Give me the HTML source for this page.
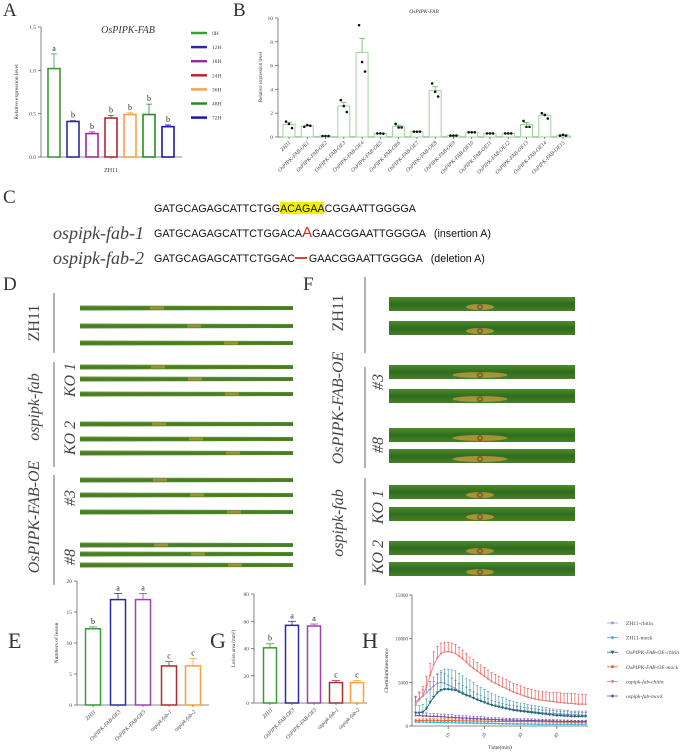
<!DOCTYPE html>
<html><head><meta charset="utf-8">
<style>
html,body{margin:0;padding:0;background:#fff;}
svg{display:block;font-family:"Liberation Serif",serif;}
.sans{font-family:"Liberation Sans",sans-serif;}
</style></head>
<body>
<svg id="fig" width="685" height="754" viewBox="0 0 685 754" xmlns="http://www.w3.org/2000/svg">
<defs>
<linearGradient id="leafD" x1="0" y1="0" x2="0" y2="1">
<stop offset="0" stop-color="#6f9a3a"/><stop offset="0.5" stop-color="#3f7a22"/><stop offset="1" stop-color="#5a8a2c"/></linearGradient>
<linearGradient id="leafF" x1="0" y1="0" x2="0" y2="1">
<stop offset="0" stop-color="#4f8a2e"/><stop offset="0.5" stop-color="#2f6e1e"/><stop offset="1" stop-color="#467f28"/></linearGradient>
</defs>
<g id="panelA"></g>
<g id="panelB"></g>
<g id="panelC">
<text x="3" y="203" font-size="19" fill="#333">C</text>
<rect x="280" y="202" width="44" height="12" fill="#f4ef00"/>
<text class="sans" x="154" y="212" font-size="10.7" fill="#111">GATGCAGAGCATTCTGGACAGAACGGAATTGGGGA</text>
<text x="53" y="239" font-size="18" font-style="italic" fill="#444">ospipk-fab-1</text>
<text class="sans" x="154" y="237" font-size="10.7" fill="#111">GATGCAGAGCATTCTGGACA<tspan fill="#e02020" font-size="15">A</tspan>GAACGGAATTGGGGA<tspan dx="8">(insertion A)</tspan></text>
<text x="53" y="264" font-size="18" font-style="italic" fill="#444">ospipk-fab-2</text>
<text class="sans" x="154" y="262" font-size="10.7" fill="#111">GATGCAGAGCATTCTGGAC<tspan dx="14">GAACGGAATTGGGGA</tspan><tspan dx="8">(deletion A)</tspan></text>
<line x1="295" y1="258" x2="307" y2="258" stroke="#e04040" stroke-width="2"/>
</g>
<g id="panelD">
<text x="3" y="290" font-size="19" fill="#333">D</text>
</g>
<g id="panelF">
<text x="303" y="290" font-size="19" fill="#333">F</text>
</g>
<g id="panelE"></g>
<g id="panelG"></g>
<g id="panelH"></g>
</svg>
<script>
// ---------- data ----------
const aCats = ['0H','12H','18H','24H','36H','48H','72H'];
const aVals = [1.02,0.41,0.27,0.45,0.49,0.49,0.35];
const aErr = [0.17,0.01,0.02,0.03,0.02,0.12,0.02];
const aLetters = ['a','b','b','b','b','b','b'];
const aTicks = [0,0.5,1.0,1.5];

const bCats = ['ZH11','OsPIPK-FAB-OE1','OsPIPK-FAB-OE2','OsPIPK-FAB-OE3','OsPIPK-FAB-OE4','OsPIPK-FAB-OE5','OsPIPK-FAB-OE6','OsPIPK-FAB-OE7','OsPIPK-FAB-OE8','OsPIPK-FAB-OE9','OsPIPK-FAB-OE10','OsPIPK-FAB-OE11','OsPIPK-FAB-OE12','OsPIPK-FAB-OE13','OsPIPK-FAB-OE14','OsPIPK-FAB-OE15'];
const bVals = [1.05,0.93,0.08,2.6,7.1,0.29,0.9,0.45,3.9,0.12,0.4,0.3,0.3,1.05,1.8,0.15];
const bErr = [0.16,0.05,0.01,0.29,1.2,0.01,0.1,0.01,0.32,0.01,0.01,0.01,0.01,0.17,0.13,0.02];
const bPts1 = [1.3,0.85,0.08,3.1,9.4,0.3,1.1,0.45,4.5,0.12,0.4,0.3,0.3,1.35,2.0,0.12];
const bPts2 = [1.1,1.0,0.08,2.6,6.3,0.3,0.8,0.45,3.8,0.12,0.4,0.3,0.3,0.85,1.85,0.18];
const bPts3 = [0.75,0.95,0.08,2.1,5.5,0.28,0.8,0.45,3.4,0.12,0.4,0.3,0.3,0.85,1.55,0.12];
const bTicks = [0,2,4,6,8,10];

const eCats = ['ZH11','OsPIPK-FAB-OE3','OsPIPK-FAB-OE5','ospipk-fab-1','ospipk-fab-2'];
const eVals = [12.3,17,17,6.3,6.3];
const eErr = [0.3,1,1,0.7,1.2];
const eLetters = ['b','a','a','c','c'];
const eTicks = [0,5,10,15,20];

const gVals = [40.5,57,56.5,15,15];
const gErr = [3,3,1.5,1.5,1.5];
const gLetters = ['b','a','a','c','c'];
const gTicks = [0,20,40,60,80];

const hTime = [];
for (let t=1;t<=48;t++) hTime.push(t);
const hXTicks = [10,20,30,40];
const hYTicks = [0,5000,10000,15000];
const hFabChitin = [2500,3000,3500,4500,5800,7000,7800,8300,8500,8500,8450,8300,8000,7700,7300,6900,6600,6300,6000,5700,5400,5100,4900,4700,4500,4300,4100,3900,3750,3600,3450,3300,3200,3100,3000,2950,2900,2850,2800,2750,2700,2650,2600,2600,2550,2500,2500,2500];
const hZhChitin = [2800,3100,3400,3800,4200,4600,4900,5000,4900,4700,4500,4300,4000,3800,3600,3400,3200,3000,2850,2700,2550,2400,2300,2200,2100,2000,1950,1900,1850,1800,1750,1700,1650,1600,1550,1500,1500,1450,1450,1400,1400,1350,1350,1300,1300,1300,1250,1250];
const hOeChitin = [1500,1500,1600,2000,2700,3300,3800,4100,4200,4200,4150,4100,3900,3700,3500,3400,3200,3000,2850,2700,2550,2400,2300,2200,2100,2000,1900,1800,1750,1700,1650,1600,1550,1500,1450,1400,1350,1300,1250,1200,1200,1150,1150,1100,1100,1100,1100,1100];
const hFabMock = [1200,1200,1150,1150,1100,1100,1100,1050,1050,1000,1000,950,950,900,900,880,860,840,820,800,780,760,740,720,700,690,680,670,660,650,640,630,620,610,600,590,580,570,560,550,540,530,520,510,500,500,500,500];
const hZhMock = [450,450,440,430,420,420,410,400,400,390,380,370,360,350,340,330,320,310,300,300,290,280,270,260,250,250,240,240,230,230,220,220,210,210,200,200,200,200,200,200,200,200,200,200,200,200,200,200];
const hOeMock = [600,620,640,650,660,660,650,650,640,630,620,610,600,600,590,580,570,560,560,550,550,540,540,530,530,520,520,510,510,500,500,500,500,490,490,480,480,470,470,460,460,450,450,440,440,440,430,430];
const hFabChitinErr = [800,900,1000,1200,1400,1500,1300,1200,1100,1100,1050,1050,1000,1000,1000,1000,1000,1000,1000,1000,1000,1000,1000,1000,1000,1000,1000,1000,1000,1000,1000,1000,1000,1000,1000,1000,1000,1000,1050,1100,1100,1100,1150,1150,1150,1150,1100,1100];

// ---------- helpers ----------
const NS='http://www.w3.org/2000/svg';
function mk(parent, tag, attrs, text){
  const el=document.createElementNS(NS,tag);
  for(const k in attrs) el.setAttribute(k,attrs[k]);
  if(text!==undefined) el.textContent=text;
  parent.appendChild(el); return el;
}
function linY(v,max,y0,yTop){return y0-(v/max)*(y0-yTop);}

// ---------- Panel A ----------
(function(){
  const g=document.getElementById('panelA');
  const x0=41,y0=157,yT=27,max=1.5,xEnd=182;
  const colors=['#3d9a3d','#2a2aa0','#9a2aa0','#b02a2a','#ffa040','#2a8a2a','#1a1aa0'];
  let t=mk(g,'text',{x:3,y:16,'font-size':19,fill:'#333'},'A');
  
  
  t=mk(g,'text',{x:128,y:33,'font-size':10,'font-style':'italic','text-anchor':'middle',fill:'#333'},'OsPIPK-FAB');
  
  
  const ax=mk(g,'path',{d:`M${x0} ${yT} V${y0} H${xEnd}`,stroke:'#666',fill:'none','stroke-width':0.8});
  
  
  aTicks.forEach(v=>{const y=linY(v,max,y0,yT);
    mk(g,'line',{x1:x0-3,x2:x0,y1:y,y2:y,stroke:'#666','stroke-width':0.8});
    const tl=mk(g,'text',{x:x0-5,y:y+2,'font-size':5.5,'text-anchor':'end',fill:'#444'},v.toFixed(1));
    
    });
  t=mk(g,'text',{transform:`translate(18,92) rotate(-90)`,'font-size':5.5,'text-anchor':'middle',fill:'#333'},'Relative expression level');
  
  
  t=mk(g,'text',{x:111,y:172,'font-size':6,'text-anchor':'middle',fill:'#333'},'ZH11');
  
  
  mk(g,'line',{x1:111,x2:111,y1:y0,y2:y0+2,stroke:'#666','stroke-width':0.8});
  aVals.forEach((v,i)=>{
    const cx=54+i*19,w=12,y=linY(v,max,y0,yT),ye=linY(v+aErr[i],max,y0,yT);
    const b=mk(g,'rect',{x:cx-w/2,y:y,width:w,height:y0-y,fill:'none',stroke:colors[i],'stroke-width':1.6});
    
    
    mk(g,'path',{d:`M${cx} ${y} V${ye} M${cx-3} ${ye} H${cx+3}`,stroke:colors[i],'stroke-width':0.8,fill:'none'});
    const l=mk(g,'text',{x:cx,y:ye-3,'font-size':8,'text-anchor':'middle',fill:'#222'},aLetters[i]);
    
    
    const ly=33+i*14.1;
    const ll=mk(g,'line',{x1:191,x2:207,y1:ly,y2:ly,stroke:colors[i],'stroke-width':2.5});
    
    
    const lt=mk(g,'text',{x:212,y:ly+2,'font-size':5.5,fill:'#444'},aCats[i]);
    
    
  });
})();

// ---------- Panel B ----------
(function(){
  const g=document.getElementById('panelB');
  const x0=278,y0=137,yT=18,max=10,xEnd=571;
  let t=mk(g,'text',{x:233,y:16,'font-size':19,fill:'#333'},'B');
  
  
  t=mk(g,'text',{x:424,y:13,'font-size':5.5,'font-style':'italic','text-anchor':'middle',fill:'#333'},'OsPIPK-FAB');
  
  
  const ax=mk(g,'path',{d:`M${x0} ${yT} V${y0} H${xEnd}`,stroke:'#666',fill:'none','stroke-width':0.8});
  
  
  bTicks.forEach(v=>{const y=linY(v,max,y0,yT);
    mk(g,'line',{x1:x0-3,x2:x0,y1:y,y2:y,stroke:'#666','stroke-width':0.8});
    const tl=mk(g,'text',{x:x0-5,y:y+2,'font-size':5.5,'text-anchor':'end',fill:'#444'},String(v));
    
    });
  t=mk(g,'text',{transform:`translate(262,77) rotate(-90)`,'font-size':5,'text-anchor':'middle',fill:'#333'},'Relative expression level');
  
  
  const step=18.27;
  bVals.forEach((v,i)=>{
    const cx=289+i*step,w=12,y=linY(v,max,y0,yT),ye=linY(v+bErr[i],max,y0,yT);
    const b=mk(g,'rect',{x:cx-w/2,y:y,width:w,height:y0-y,fill:'none',stroke:'#9fd49f','stroke-width':1});
    
    
    mk(g,'path',{d:`M${cx} ${y} V${ye} M${cx-3} ${ye} H${cx+3}`,stroke:'#5cb85c','stroke-width':0.8,fill:'none'});
    [bPts1[i],bPts2[i],bPts3[i]].forEach((p,k)=>{
      const dot=mk(g,'circle',{cx:cx+(k-1)*3,cy:linY(p,max,y0,yT),r:1.3,fill:'#111'});
      
      
    });
    mk(g,'line',{x1:cx,x2:cx,y1:y0,y2:y0+2,stroke:'#666','stroke-width':0.8});
    const lb=mk(g,'text',{transform:`translate(${cx+2},${y0+6}) rotate(-45)`,'font-size':5.5,'font-style':'italic','text-anchor':'end',fill:'#444'},bCats[i]);
    
    
  });
})();

// ---------- Panels D & F leaves ----------
(function(){
  const d=document.getElementById('panelD');
  const dLeaves=[308,326,343,367,379,394,424,439,453,480,495,512,545,554,565];
  dLeaves.forEach((y,i)=>{
    const r=mk(d,'path',{d:`M80 ${y-2.5} L293 ${y-2} L293 ${y+2} L80 ${y+2.5} Z`,fill:'url(#leafD)'});
    
    
    mk(d,'rect',{x:150+((i*37)%110),y:y-1.5,width:14,height:3,fill:'#c8a040',opacity:0.6});
  });
  const lines=[[54,293,353],[54,362,467],[54,475,585]];
  lines.forEach(l=>mk(d,'line',{x1:l[0],x2:l[0],y1:l[1],y2:l[2],stroke:'#666','stroke-width':1}));
  const dl=[[33,323,'ZH11',16,false],[33,407,'ospipk-fab',16,true],[69,380,'KO 1',16,true],[69,438,'KO 2',16,true],[33,517,'OsPIPK-FAB-OE',16,true],[69,498,'#3',16,true],[69,557,'#8',16,true]];
  dl.forEach(a=>{const t=mk(d,'text',{transform:`translate(${a[0]+6},${a[1]}) rotate(-90)`,'font-size':a[3],'font-style':a[4]?'italic':'normal','text-anchor':'middle',fill:'#444'},a[2]);
    
    });

  const f=document.getElementById('panelF');
  const fLeaves=[304,328,372,396,435,456,492,514,548,569];
  fLeaves.forEach((y,i)=>{
    const r=mk(f,'rect',{x:389,y:y-7,width:186,height:14,fill:'url(#leafF)'});
    
    
    const wdt=(i>=2&&i<=5)?55:28;
    mk(f,'ellipse',{cx:480,cy:y+3,rx:wdt/2,ry:3,fill:'#d8a040',opacity:0.7});
    mk(f,'circle',{cx:480,cy:y+3,r:2.3,fill:'none',stroke:'#6a3a20','stroke-width':1});
  });
  [[365,277,353],[365,367,468],[365,478,585]].forEach(l=>mk(f,'line',{x1:l[0],x2:l[0],y1:l[1],y2:l[2],stroke:'#666','stroke-width':1}));
  const fl=[[337,313,'ZH11',false],[337,408,'OsPIPK-FAB-OE',true],[377,382,'#3',true],[377,445,'#8',true],[337,523,'ospipk-fab',true],[377,507,'KO 1',true],[377,557,'KO 2',true]];
  fl.forEach(a=>{const t=mk(f,'text',{transform:`translate(${a[0]+6},${a[1]}) rotate(-90)`,'font-size':16,'font-style':a[3]?'italic':'normal','text-anchor':'middle',fill:'#444'},a[2]);
    
    });
})();

// ---------- Panels E & G ----------
const egColors=['#3a9a3a','#2a2aa0','#a040b0','#b02a2a','#ffa040'];
function barPanel(id,label,lx,x0,y0,yT,xEnd,max,ticks,vals,errs,letters,centers,w,ytitle,fs){
  const g=document.getElementById(id);
  let t=mk(g,'text',{x:lx,y:648,'font-size':22,fill:'#333'},label);
  
  
  const ax=mk(g,'path',{d:`M${x0} ${yT} V${y0} H${xEnd}`,stroke:'#666',fill:'none','stroke-width':0.8});
  
  
  ticks.forEach(v=>{const y=linY(v,max,y0,yT);
    mk(g,'line',{x1:x0-3,x2:x0,y1:y,y2:y,stroke:'#666','stroke-width':0.8});
    const tl=mk(g,'text',{x:x0-5,y:y+2,'font-size':5.5,'text-anchor':'end',fill:'#444'},String(v));
    
    });
  t=mk(g,'text',{transform:`translate(${x0-19},${(y0+yT)/2}) rotate(-90)`,'font-size':fs,'text-anchor':'middle',fill:'#333'},ytitle);
  
  
  vals.forEach((v,i)=>{
    const cx=centers[i],y=linY(v,max,y0,yT),ye=linY(v+errs[i],max,y0,yT);
    const b=mk(g,'rect',{x:cx-w/2,y:y,width:w,height:y0-y,fill:'none',stroke:egColors[i],'stroke-width':1.5});
    
    
    mk(g,'path',{d:`M${cx} ${y} V${ye} M${cx-4} ${ye} H${cx+4}`,stroke:egColors[i],'stroke-width':0.8,fill:'none'});
    const l=mk(g,'text',{x:cx,y:ye-3,'font-size':8,'text-anchor':'middle',fill:'#222'},letters[i]);
    
    
    mk(g,'line',{x1:cx,x2:cx,y1:y0,y2:y0+2,stroke:'#666','stroke-width':0.8});
    const lb=mk(g,'text',{transform:`translate(${cx+3},${y0+7}) rotate(-45)`,'font-size':5.5,'font-style':'italic','text-anchor':'end',fill:'#444'},eCats[i]);
    
    
  });
}
barPanel('panelE','E',8,77,705,581,209,20,eTicks,eVals,eErr,eLetters,[93,118,143,169,193],15,'Numbers of  lesion',5.5);
barPanel('panelG','G',210,254,703,594,367,80,gTicks,gVals,gErr,gLetters,[270,292,314,336,357],13,'Lesion area (mm²)',5);

// ---------- Panel H ----------
(function(){
  const g=document.getElementById('panelH');
  const x0=412,y0=726,yT=595,xEnd=588,max=15000,pxPerMin=3.62;
  const X=t=>x0+t*pxPerMin, Y=v=>linY(v,max,y0,yT);
  let t=mk(g,'text',{x:362,y:648,'font-size':22,fill:'#333'},'H');
  
  
  const ax=mk(g,'path',{d:`M${x0} ${yT} V${y0} H${xEnd}`,stroke:'#666',fill:'none','stroke-width':0.8});
  
  
  hYTicks.forEach(v=>{const y=Y(v);
    mk(g,'line',{x1:x0-3,x2:x0,y1:y,y2:y,stroke:'#666','stroke-width':0.8});
    const tl=mk(g,'text',{x:x0-4,y:y+2,'font-size':5,'text-anchor':'end',fill:'#444'},String(v));
    
    });
  hXTicks.forEach(v=>{const x=X(v);
    mk(g,'line',{x1:x,x2:x,y1:y0,y2:y0+3,stroke:'#666','stroke-width':0.8});
    const tl=mk(g,'text',{transform:`translate(${x+2},${y0+8}) rotate(-60)`,'font-size':5,'text-anchor':'end',fill:'#444'},String(v));
    
    });
  t=mk(g,'text',{x:500,y:749,'font-size':5.5,'text-anchor':'middle',fill:'#333'},'Time(min)');
  
  
  t=mk(g,'text',{transform:`translate(388,${(y0+yT)/2+10}) rotate(-90)`,'font-size':5.5,'text-anchor':'middle',fill:'#333'},'Chemiluminescence');
  
  
  const series=[
    {name:'ZH11-chitin',vals:hZhChitin,col:'#a890e8',err:0.22,italic:false},
    {name:'ZH11-mock',vals:hZhMock,col:'#30b8f0',err:0.3,italic:false},
    {name:'OsPIPK-FAB-OE-chitin',vals:hOeChitin,col:'#1a6a78',err:0.55,italic:true,tri:true},
    {name:'OsPIPK-FAB-OE-mock',vals:hOeMock,col:'#f06020',err:0.3,italic:true},
    {name:'ospipk-fab-chitin',vals:hFabChitin,col:'#f07878',errArr:hFabChitinErr,italic:true},
    {name:'ospipk-fab-mock',vals:hFabMock,col:'#6a50a8',err:0.3,italic:true}
  ];
  const errCols=['#7060a0','#30b8f0','#3a9aa0','#f06020','#f04040','#6a50a8'];
  series.forEach((s,si)=>{
    const sg=mk(g,'g',{});
    
    
    s.vals.forEach((v,i)=>{
      const e=s.errArr?s.errArr[i]:v*s.err;
      const x=X(hTime[i]);
      mk(sg,'path',{d:`M${x} ${Y(v)} V${Y(v+e)} M${x-1.2} ${Y(v+e)} H${x+1.2}`,stroke:errCols[si],'stroke-width':0.6,fill:'none'});
    });
    const d=s.vals.map((v,i)=>(i?'L':'M')+X(hTime[i]).toFixed(1)+' '+Y(v).toFixed(1)).join(' ');
    const ln=mk(sg,'path',{d:d,stroke:s.col,'stroke-width':0.9,fill:'none'});
    
    
    s.vals.forEach((v,i)=>{
      const x=X(hTime[i]),y=Y(v);
      if(s.tri) mk(sg,'path',{d:`M${x-1.6} ${y-1.2} H${x+1.6} L${x} ${y+1.6} Z`,fill:s.col});
      else mk(sg,'circle',{cx:x,cy:y,r:1,fill:s.col});
    });
    const ly=623+si*14.6;
    const lg=mk(g,'g',{});
    
    
    mk(lg,'line',{x1:607,x2:618,y1:ly,y2:ly,stroke:s.col,'stroke-width':0.8});
    if(s.tri) mk(lg,'path',{d:`M610.5 ${ly-1.5} H614.5 L612.5 ${ly+2} Z`,fill:s.col});
    else mk(lg,'circle',{cx:612.5,cy:ly,r:1.5,fill:s.col});
    mk(lg,'text',{x:626,y:ly+2,'font-size':5.5,'font-style':s.italic?'italic':'normal',fill:'#444'},s.name);
  });
})();
</script>
</body></html>
